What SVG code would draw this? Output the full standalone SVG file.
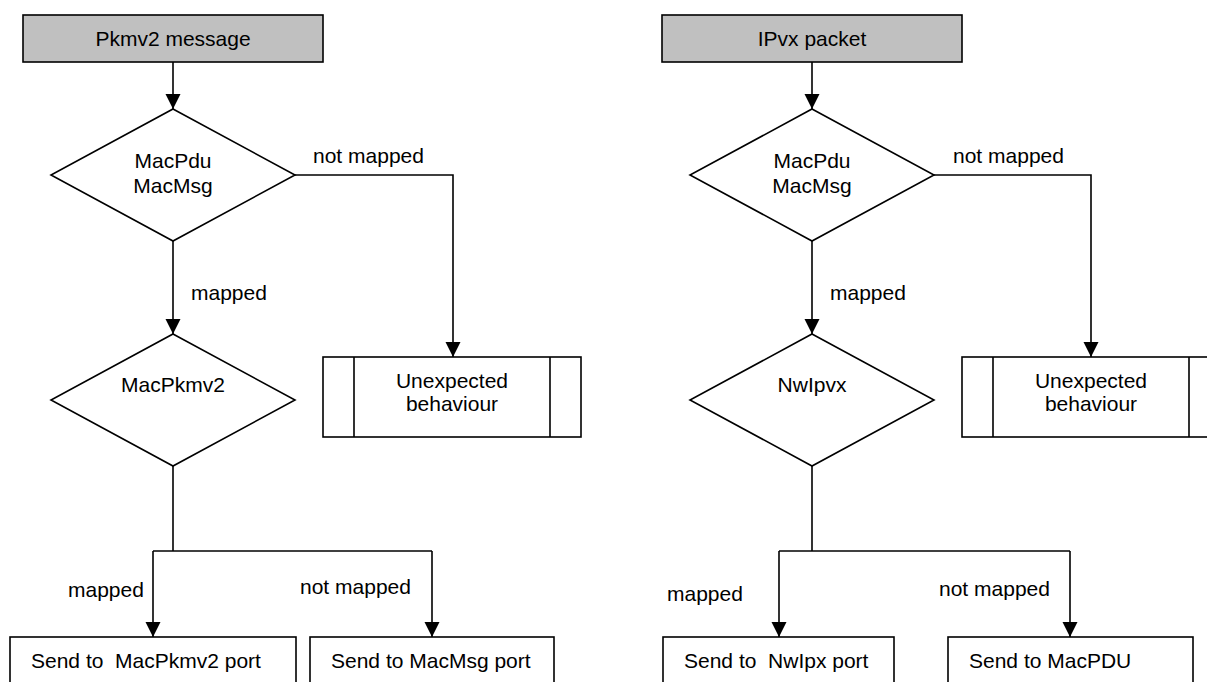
<svg xmlns="http://www.w3.org/2000/svg" width="1207" height="682" viewBox="0 0 1207 682">
<style>
.box{fill:#fff;stroke:#000;stroke-width:1.6}
.start{fill:#c0c0c0;stroke:#000;stroke-width:1.6}
.ln{fill:none;stroke:#000;stroke-width:1.6}
text{font-family:"Liberation Sans",Arial,sans-serif;font-size:21px;fill:#000}
.c{text-anchor:middle}
</style>
<defs>
<marker id="ah" markerUnits="userSpaceOnUse" markerWidth="16" markerHeight="16" refX="15" refY="7.5" orient="auto">
<path d="M0,0 L15,7.5 L0,15 z" fill="#000"/>
</marker>
</defs>
<g id="connectors">
<path class="ln" d="M173,62 V109" marker-end="url(#ah)"/>
<path class="ln" d="M295,175 H453 V357" marker-end="url(#ah)"/>
<path class="ln" d="M173,241 V334" marker-end="url(#ah)"/>
<path class="ln" d="M173,466 V551"/>
<path class="ln" d="M153,551 H432"/>
<path class="ln" d="M153,551 V637" marker-end="url(#ah)"/>
<path class="ln" d="M432,551 V637" marker-end="url(#ah)"/>
<text x="313" y="163">not mapped</text>
<text x="191" y="300">mapped</text>
<text x="68" y="597">mapped</text>
<text x="300" y="594">not mapped</text>
<path class="ln" d="M812,62 V109" marker-end="url(#ah)"/>
<path class="ln" d="M934,175 H1091 V357" marker-end="url(#ah)"/>
<path class="ln" d="M812,241 V334" marker-end="url(#ah)"/>
<path class="ln" d="M812,466 V551"/>
<path class="ln" d="M779,551 H1070"/>
<path class="ln" d="M779,551 V637" marker-end="url(#ah)"/>
<path class="ln" d="M1070,551 V637" marker-end="url(#ah)"/>
<text x="953" y="163">not mapped</text>
<text x="830" y="300">mapped</text>
<text x="667" y="601">mapped</text>
<text x="939" y="596">not mapped</text>
</g>
<g id="pkmv2-message">
<rect class="start" x="23" y="15" width="300" height="47"/>
<text class="c" x="173" y="46">Pkmv2 message</text>
</g>
<g id="decision-macpdu-left">
<polygon class="box" points="173,109 295,175 173,241 51,175"/>
<text class="c" x="173" y="168">MacPdu</text>
<text class="c" x="173" y="193">MacMsg</text>
</g>
<g id="unexpected-left">
<rect class="box" x="323" y="357" width="258" height="80"/>
<path class="ln" d="M354,357 V437 M550,357 V437"/>
<text class="c" x="452" y="388">Unexpected</text>
<text class="c" x="452" y="411">behaviour</text>
</g>
<g id="decision-macpkmv2">
<polygon class="box" points="173,334 295,400 173,466 51,400"/>
<text class="c" x="173" y="392">MacPkmv2</text>
</g>
<g id="send-macpkmv2">
<rect class="box" x="10" y="637" width="286" height="60"/>
<text x="31" y="668" xml:space="preserve">Send to  MacPkmv2 port</text>
</g>
<g id="send-macmsg">
<rect class="box" x="310" y="637" width="244" height="60"/>
<text x="331" y="668">Send to MacMsg port</text>
</g>
<g id="ipvx-packet">
<rect class="start" x="662" y="15" width="300" height="47"/>
<text class="c" x="812" y="46">IPvx packet</text>
</g>
<g id="decision-macpdu-right">
<polygon class="box" points="812,109 934,175 812,241 690,175"/>
<text class="c" x="812" y="168">MacPdu</text>
<text class="c" x="812" y="193">MacMsg</text>
</g>
<g id="unexpected-right">
<rect class="box" x="962" y="357" width="258" height="80"/>
<path class="ln" d="M993,357 V437 M1189,357 V437"/>
<text class="c" x="1091" y="388">Unexpected</text>
<text class="c" x="1091" y="411">behaviour</text>
</g>
<g id="decision-nwipvx">
<polygon class="box" points="812,334 934,400 812,466 690,400"/>
<text class="c" x="812" y="392">NwIpvx</text>
</g>
<g id="send-nwipx">
<rect class="box" x="663" y="637" width="231" height="60"/>
<text x="684" y="668" xml:space="preserve">Send to  NwIpx port</text>
</g>
<g id="send-macpdu">
<rect class="box" x="948" y="637" width="245" height="60"/>
<text x="969" y="668">Send to MacPDU</text>
</g>
</svg>
